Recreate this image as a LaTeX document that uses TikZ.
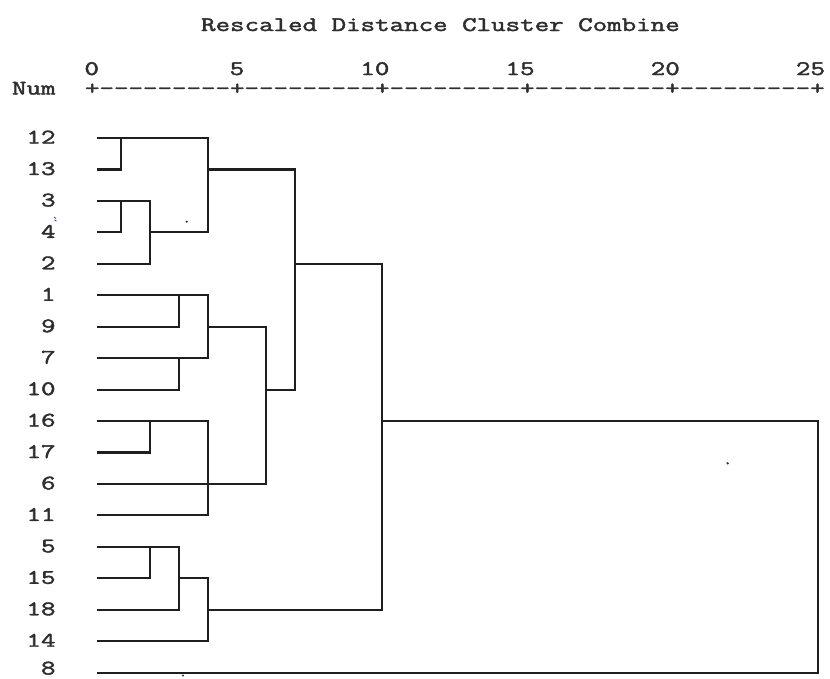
\documentclass[tikz,border=0pt]{standalone}
\usepackage{fontspec}
\usepackage{graphicx}
\newfontfamily\spssmono[FakeBold=1.8]{Latin Modern Mono}
% typewriter text, widened to the 14.5px character grid of the listing
\newcommand\wide[1]{\scalebox{1.3627}[1]{#1}}
\begin{document}
\begin{tikzpicture}[x=0.75pt,y=-0.75pt,
  declare function={U(\u)=92+29.04*\u; R(\i)=138+31.45*\i;},
  txt/.style={font=\spssmono\fontsize{15.5}{15.5}\selectfont, inner sep=0pt, text=black!82},
  tree/.style={line width=1.6pt, draw=black!88, line cap=rect}]

\fill[white] (0,0) rectangle (830,678);
\useasboundingbox (0,0) rectangle (830,678);

% heading and distance scale
\node[txt, anchor=base west] (title) at (200.8,31) {\wide{Rescaled Distance Cluster Combine}};
\node[txt, anchor=base east] (num) at (55.8,94.5) {\wide{Num}};
\node[txt, anchor=base west] (scale) at (84.74,94.5) {\wide{+---------+---------+---------+---------+---------+}};
\foreach \k in {0,5,10,15,20,25}
  \node[txt, anchor=base east] (tick\k) at ({U(\k)+7.26},75) {\wide{\k}};

% case labels and leaf lines: row / case / scale value where the leaf ends
\foreach \i/\lab/\e in {0/12/4, 1/13/1, 2/3/2, 3/4/1, 4/2/2, 5/1/4, 6/9/3, 7/7/4,
    8/10/3, 9/16/4, 10/17/2, 11/6/6, 12/11/4, 13/5/3, 14/15/2, 15/18/3, 16/14/4, 17/8/25} {
  \node[txt, anchor=base east] (n\lab) at (55.8,{min(R(\i)+5.5,674.5)}) {\wide{\lab}};
  \coordinate (a\lab) at (98,{R(\i)});
  \coordinate (b\lab) at ({U(\e)},{R(\i)});
  \draw[tree] (a\lab) -- (b\lab);
}

% joins: scale value / first row / last row
\foreach \u/\p/\q in {1/0/1, 1/2/3, 2/2/4, 4/0/3, 3/5/6, 3/7/8, 4/5/7, 6/6/11, 7/1/8,
    2/9/10, 4/9/12, 2/13/14, 3/13/15, 4/14/16, 10/4/15, 25/9/17}
  \draw[tree] ({U(\u)},{R(\p)}) -- ({U(\u)},{R(\q)});

% links from a join to the next one: row / from / to
\foreach \r/\f/\t in {3/2/4, 1/4/7, 6/4/6, 8/6/7, 4/7/10, 14/3/4, 15/4/10, 9/10/25}
  \draw[tree] ({U(\f)},{R(\r)}) -- ({U(\t)},{R(\r)});

% specks on the sheet
\fill[black!80] (186.7,221.7) circle (1.2);
\fill[black!80] (727.7,463.3) circle (1.3);
\fill[black!80] (183,675.5) circle (1.2);
\draw[blue!60!gray, line width=0.6pt] (54,217) -- (56,218.5) (54.5,220) -- (56.5,221);
\end{tikzpicture}
\end{document}
